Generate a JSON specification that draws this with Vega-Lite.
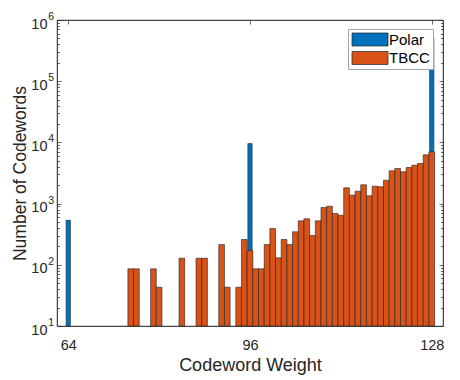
{
  "$schema": "https://vega.github.io/schema/vega-lite/v6.json",
  "autosize": {"type": "none"},
  "width": 386,
  "height": 306,
  "padding": {"left": 57, "top": 20, "right": 17, "bottom": 54},
  "background": "white",
  "config": {
    "view": {"stroke": "#262626", "strokeWidth": 0.7},
    "font": "Liberation Sans",
    "axis": {"grid": false, "zindex": 1, "labelColor": "#262626", "titleColor": "#262626", "domainColor": "#262626", "tickColor": "#262626", "domainWidth": 0.7, "tickWidth": 0.7, "labelFont": "Liberation Sans", "titleFont": "Liberation Sans", "titleFontWeight": "normal"}
  },
  "data": {"values": [
    {"weight": 64, "count": 535, "code": "Polar"},
    {"weight": 96, "count": 9550, "code": "Polar"},
    {"weight": 128, "count": 511000, "code": "Polar"},
    {"weight": 75, "count": 86, "code": "TBCC"},
    {"weight": 76, "count": 86, "code": "TBCC"},
    {"weight": 79, "count": 86, "code": "TBCC"},
    {"weight": 80, "count": 43, "code": "TBCC"},
    {"weight": 84, "count": 128, "code": "TBCC"},
    {"weight": 87, "count": 128, "code": "TBCC"},
    {"weight": 88, "count": 128, "code": "TBCC"},
    {"weight": 91, "count": 214, "code": "TBCC"},
    {"weight": 92, "count": 43, "code": "TBCC"},
    {"weight": 94, "count": 43, "code": "TBCC"},
    {"weight": 95, "count": 259, "code": "TBCC"},
    {"weight": 96, "count": 171, "code": "TBCC"},
    {"weight": 97, "count": 86, "code": "TBCC"},
    {"weight": 98, "count": 86, "code": "TBCC"},
    {"weight": 99, "count": 214, "code": "TBCC"},
    {"weight": 100, "count": 392, "code": "TBCC"},
    {"weight": 101, "count": 130, "code": "TBCC"},
    {"weight": 102, "count": 259, "code": "TBCC"},
    {"weight": 103, "count": 214, "code": "TBCC"},
    {"weight": 104, "count": 346, "code": "TBCC"},
    {"weight": 105, "count": 523, "code": "TBCC"},
    {"weight": 106, "count": 565, "code": "TBCC"},
    {"weight": 107, "count": 301, "code": "TBCC"},
    {"weight": 108, "count": 523, "code": "TBCC"},
    {"weight": 109, "count": 863, "code": "TBCC"},
    {"weight": 110, "count": 906, "code": "TBCC"},
    {"weight": 111, "count": 689, "code": "TBCC"},
    {"weight": 112, "count": 646, "code": "TBCC"},
    {"weight": 113, "count": 1810, "code": "TBCC"},
    {"weight": 114, "count": 1372, "code": "TBCC"},
    {"weight": 115, "count": 1595, "code": "TBCC"},
    {"weight": 116, "count": 2029, "code": "TBCC"},
    {"weight": 117, "count": 1340, "code": "TBCC"},
    {"weight": 118, "count": 1923, "code": "TBCC"},
    {"weight": 119, "count": 1882, "code": "TBCC"},
    {"weight": 120, "count": 2410, "code": "TBCC"},
    {"weight": 121, "count": 3434, "code": "TBCC"},
    {"weight": 122, "count": 3750, "code": "TBCC"},
    {"weight": 123, "count": 3310, "code": "TBCC"},
    {"weight": 124, "count": 3890, "code": "TBCC"},
    {"weight": 125, "count": 4240, "code": "TBCC"},
    {"weight": 126, "count": 4520, "code": "TBCC"},
    {"weight": 127, "count": 6270, "code": "TBCC"},
    {"weight": 128, "count": 7020, "code": "TBCC"}
  ]},
  "resolve": {"axis": {"x": "independent", "y": "independent"}},
  "layer": [
    {
      "transform": [{"filter": "datum.code == 'Polar'"}],
      "mark": {"type": "bar", "size": 4.3, "stroke": "#222222", "strokeWidth": 0.6},
      "encoding": {
        "x": {"field": "weight", "type": "quantitative",
              "scale": {"domain": [62.9, 129.1], "nice": false, "zero": false},
              "axis": {"orient": "bottom", "values": [64, 96, 128], "tickSize": -4, "labelPadding": 16, "labelFontSize": 14.5, "title": "Codeword Weight", "titleFontSize": 18, "titlePadding": 5, "labelFlush": false}},
        "y": {"field": "count", "type": "quantitative",
              "scale": {"type": "log", "domain": [10, 1000000], "nice": false},
              "axis": {"orient": "left",
                       "values": [10,20,30,40,50,60,70,80,90,100,200,300,400,500,600,700,800,900,1000,2000,3000,4000,5000,6000,7000,8000,9000,10000,20000,30000,40000,50000,60000,70000,80000,90000,100000,200000,300000,400000,500000,600000,700000,800000,900000,1000000],
                       "tickSize": {"condition": {"test": "indexof([10,100,1000,10000,100000,1000000], datum.value) >= 0", "value": -4}, "value": -2.5},
                       "labelExpr": "indexof([10,100,1000,10000,100000,1000000], datum.value) >= 0 ? '10' : ''",
                       "labelPadding": 14, "labelOffset": 4, "labelFontSize": 14.5, "title": "Number of Codewords", "titleFontSize": 17.5, "titlePadding": 1}},
        "y2": {"datum": 10},
        "color": {"field": "code", "type": "nominal",
                  "scale": {"domain": ["Polar", "TBCC"], "range": ["#0072BD", "#D95319"]},
                  "legend": {"orient": "none", "legendX": 291, "legendY": 9, "title": null,
                             "fillColor": "white", "strokeColor": "#a6a6a6", "padding": 3,
                             "symbolType": "M-1,-1L4.54,-1L4.54,1L-1,1Z", "symbolSize": 169,
                             "symbolStrokeColor": "#222222", "symbolStrokeWidth": 0.7, "symbolOpacity": 1,
                             "labelFontSize": 15, "labelColor": "#000000", "labelOffset": 23, "rowPadding": 1.5}}
      }
    },
    {
      "transform": [{"filter": "datum.code == 'TBCC'"}],
      "mark": {"type": "bar", "size": 5.7, "stroke": "#222222", "strokeWidth": 0.6},
      "encoding": {
        "x": {"field": "weight", "type": "quantitative",
              "axis": {"orient": "top", "values": [64, 96, 128], "tickSize": -4, "labels": false, "title": null}},
        "y": {"field": "count", "type": "quantitative",
              "axis": {"orient": "right",
                       "values": [10,20,30,40,50,60,70,80,90,100,200,300,400,500,600,700,800,900,1000,2000,3000,4000,5000,6000,7000,8000,9000,10000,20000,30000,40000,50000,60000,70000,80000,90000,100000,200000,300000,400000,500000,600000,700000,800000,900000,1000000],
                       "tickSize": {"condition": {"test": "indexof([10,100,1000,10000,100000,1000000], datum.value) >= 0", "value": -4}, "value": -2.5},
                       "labels": false, "title": null}},
        "y2": {"datum": 10},
        "color": {"field": "code", "type": "nominal"}
      }
    },
    {
      "transform": [{"filter": "datum.code == 'TBCC'"}],
      "mark": {"type": "bar", "size": 5.7, "opacity": 0},
      "encoding": {
        "x": {"field": "weight", "type": "quantitative", "axis": null},
        "y": {"field": "count", "type": "quantitative",
              "axis": {"orient": "left", "values": [10,100,1000,10000,100000,1000000],
                       "labelExpr": "['1','2','3','4','5','6'][indexof([10,100,1000,10000,100000,1000000], datum.value)]",
                       "ticks": false, "domain": false, "labelPadding": 3.5, "labelOffset": -3.5, "labelFontSize": 10.5, "title": null}},
        "y2": {"datum": 10}
      }
    }
  ]
}
